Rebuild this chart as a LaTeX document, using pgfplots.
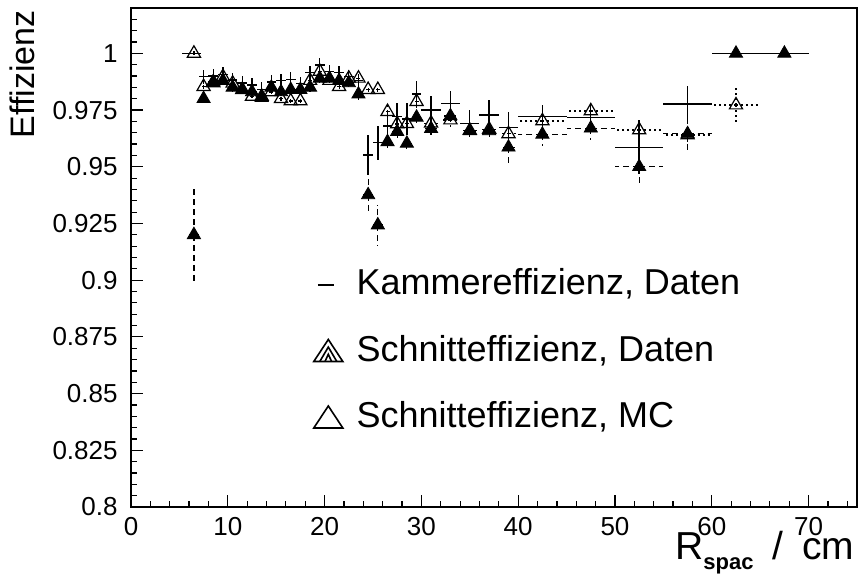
\documentclass[border=0pt]{standalone}
\usepackage{fontspec}
\setmainfont{Liberation Sans}
\usepackage{pgfplots}
\pgfplotsset{compat=1.18}
\usepackage{pgfplotstable}

% Schnitteffizienz, Daten (filled triangles, dashed errors)
\pgfplotstableread{
x y ex ey
6.5 0.920 0.5 0.021
7.5 0.980 0.5 0.002
8.5 0.9875 0.5 0.002
9.5 0.988 0.5 0.002
10.5 0.985 0.5 0.002
11.5 0.984 0.5 0.002
12.5 0.983 0.5 0.002
13.5 0.9805 0.5 0.002
14.5 0.985 0.5 0.002
15.5 0.983 0.5 0.002
16.5 0.984 0.5 0.002
17.5 0.984 0.5 0.002
18.5 0.985 0.5 0.002
19.5 0.989 0.5 0.002
20.5 0.989 0.5 0.002
21.5 0.988 0.5 0.002
22.5 0.987 0.5 0.002
23.5 0.982 0.5 0.003
24.5 0.9376 0.5 0.008
25.5 0.9243 0.5 0.009
26.5 0.961 0.5 0.004
27.5 0.9655 0.5 0.004
28.5 0.9603 0.5 0.004
29.5 0.9718 0.5 0.004
31 0.9668 1 0.004
33 0.9724 1 0.004
35 0.9658 1 0.004
37 0.9658 1 0.004
39 0.9586 1 0.007
42.5 0.9643 2.5 0.005
47.5 0.967 2.5 0.005
52.5 0.950 2.5 0.008
57.5 0.9645 2.5 0.008
62.5 1.0 2.5 0
67.5 1.0 2.5 0
}\filled

% Kammereffizienz, Daten (solid crosses)
\pgfplotstableread{
x y ex ey
6.25 1.0 1.0 0
7.5 0.9897 0.5 0.003
8.5 0.990 0.5 0.003
9.5 0.9908 0.5 0.003
10.5 0.9883 0.5 0.003
11.5 0.987 0.5 0.003
12.5 0.9861 0.5 0.003
13.5 0.9842 0.5 0.003
14.5 0.9873 0.5 0.003
15.5 0.988 0.5 0.003
16.5 0.9886 0.5 0.003
17.5 0.9868 0.5 0.003
18.5 0.9915 0.5 0.003
19.5 0.9949 0.5 0.003
20.5 0.9919 0.5 0.003
21.5 0.9915 0.5 0.003
22.5 0.9897 0.5 0.003
23.5 0.988 0.5 0.003
24.5 0.9552 0.5 0.009
25.5 0.9606 0.5 0.0075
26.5 0.968 0.5 0.007
27.5 0.9721 0.5 0.006
28.5 0.971 0.5 0.007
29.5 0.982 0.5 0.006
31 0.975 1 0.006
33 0.978 1 0.0055
35 0.9692 1 0.006
37 0.9728 1 0.0066
39 0.9674 1 0.0066
42.5 0.9721 2.5 0.005
47.5 0.9718 2.5 0.005
52.5 0.9586 2.5 0.012
57.5 0.9777 2.5 0.008
62.5 1.0 2.5 0
67.5 1.0 2.5 0
}\kammer

% Schnitteffizienz, MC (open triangles, dotted errors)
\pgfplotstableread{
x y ex ey
6.5 1.0 0.5 0.002
7.5 0.9853 0.5 0.002
8.5 0.987 0.5 0.002
9.5 0.9897 0.5 0.002
10.5 0.9868 0.5 0.002
11.5 0.984 0.5 0.002
12.5 0.981 0.5 0.002
13.5 0.981 0.5 0.002
14.5 0.983 0.5 0.002
15.5 0.980 0.5 0.002
16.5 0.979 0.5 0.002
17.5 0.979 0.5 0.002
18.5 0.988 0.5 0.002
19.5 0.992 0.5 0.002
20.5 0.988 0.5 0.002
21.5 0.9853 0.5 0.002
22.5 0.989 0.5 0.002
23.5 0.989 0.5 0.002
24.5 0.984 0.5 0.002
25.5 0.984 0.5 0.002
26.5 0.9743 0.5 0.003
27.5 0.9689 0.5 0.003
28.5 0.969 0.5 0.003
29.5 0.9787 0.5 0.003
31 0.9692 1 0.003
33 0.9706 1 0.003
35 0.966 1 0.003
37 0.9665 1 0.003
39 0.9645 1 0.003
42.5 0.9702 2.5 0.003
47.5 0.9746 2.5 0.003
52.5 0.9662 2.5 0.003
57.5 0.964 2.5 0.003
62.5 0.9772 2.5 0.008
}\mc

\begin{document}
\begin{tikzpicture}
\begin{axis}[
  scale only axis, width=363pt, height=249.5pt,
  xmin=0, xmax=75, ymin=0.8, ymax=1.02,
  axis line style={line width=0.9pt},
  xtick={0,10,...,70}, minor xtick={2,4,...,74},
  ytick={0.8,0.825,0.85,0.875,0.9,0.925,0.95,0.975,1},
  minor ytick={0.805,0.81,...,1.0201},
  xtick pos=bottom, ytick pos=left, tick align=inside,
  major tick length=6pt, minor tick length=3pt,
  every tick/.style={line width=0.6pt, black},
  /pgf/number format/assume math mode=true,
  y tick label style={/pgf/number format/fixed, /pgf/number format/precision=3, inner sep=0pt, xshift=-6.5pt, font=\fontsize{13}{13}\selectfont},
  x tick label style={inner sep=0pt, yshift=-5pt, font=\fontsize{13}{13}\selectfont},
  ylabel={Effizienz},
  ylabel style={at={(axis description cs:-0.149,0.996)}, anchor=east, inner sep=0pt, font=\fontsize{17}{17}\selectfont},
  xlabel={R\raisebox{-0.45ex}{\fontsize{11}{11}\selectfont\bfseries spac}\hspace{9.5pt}/\hspace{9.5pt}cm},
  xlabel style={at={(axis description cs:0.997,-0.1062)}, anchor=base east, inner sep=0pt, font=\fontsize{19.5}{19.5}\selectfont},
  legend style={at={(0.2507,0.477)}, anchor=north west, draw=none, fill=none,
    inner sep=0pt, outer sep=0pt, font=\fontsize{18}{18}\selectfont, row sep=16.25pt,
    cells={anchor=base west},
    nodes={inner sep=0pt, text height=13pt, text depth=4pt},
    /tikz/every odd column/.append style={column sep=6.5pt}},
]
% MC
\addplot[forget plot, only marks, mark=triangle, mark size=3.8pt, mark options={fill=white, line width=0.6pt, solid}, black,
  error bars/.cd, x dir=both, x explicit, y dir=both, y explicit, error mark=none,
  error bar style={line width=0.6pt, dash pattern=on 1pt off 1.5pt}]
  table[x=x, y=y, x error=ex, y error=ey] {\mc};
% Schnitt Daten
\addplot[forget plot, only marks, mark=triangle*, mark size=3.8pt, mark options={fill=black, solid}, black,
  error bars/.cd, x dir=both, x explicit, y dir=both, y explicit, error mark=none,
  error bar style={line width=0.6pt, dash pattern=on 3pt off 2pt}]
  table[x=x, y=y, x error=ex, y error=ey] {\filled};
% Kammer
\addplot[forget plot, only marks, mark=*, mark size=0pt, mark options={draw=none, fill=none}, black,
  error bars/.cd, x dir=both, x explicit, y dir=both, y explicit, error mark=none,
  error bar style={line width=0.7pt, solid, draw=black}]
  table[x=x, y=y, x error=ex, y error=ey] {\kammer};

\addlegendimage{legend image code/.code={\path[draw=none, fill=none] (0pt,0pt) rectangle (14.5pt,11pt); \draw[line width=1.1pt, black, fill=none] (2pt,5pt) -- (10pt,5pt);}}
\addlegendentry{Kammereffizienz, Daten}
\addlegendimage{legend image code/.code={\path[draw=none, fill=none] (0pt,0pt) rectangle (14.5pt,11pt);
  \draw[line width=0.8pt, black, fill=none, line join=miter] (0pt,0pt) -- (14.5pt,0pt) -- (7.25pt,11pt) -- cycle;
  \draw[line width=0.8pt, black, fill=none] (3pt,0pt) -- (7.25pt,7.2pt) -- (11.5pt,0pt);
  \draw[line width=0.8pt, black, fill=none] (5.6pt,0pt) -- (7.25pt,3.6pt) -- (8.9pt,0pt);}}
\addlegendentry{Schnitteffizienz, Daten}
\addlegendimage{legend image code/.code={\path[draw=none, fill=none] (0pt,0pt) rectangle (14.5pt,11pt);
  \draw[line width=0.8pt, black, fill=none, line join=miter] (0pt,0pt) -- (14.5pt,0pt) -- (7.25pt,11pt) -- cycle;}}
\addlegendentry{Schnitteffizienz, MC}
\end{axis}
\pgfresetboundingbox
\path (-65.5pt,-36pt) rectangle (363.5pt,253.5pt);
\end{tikzpicture}
\end{document}
